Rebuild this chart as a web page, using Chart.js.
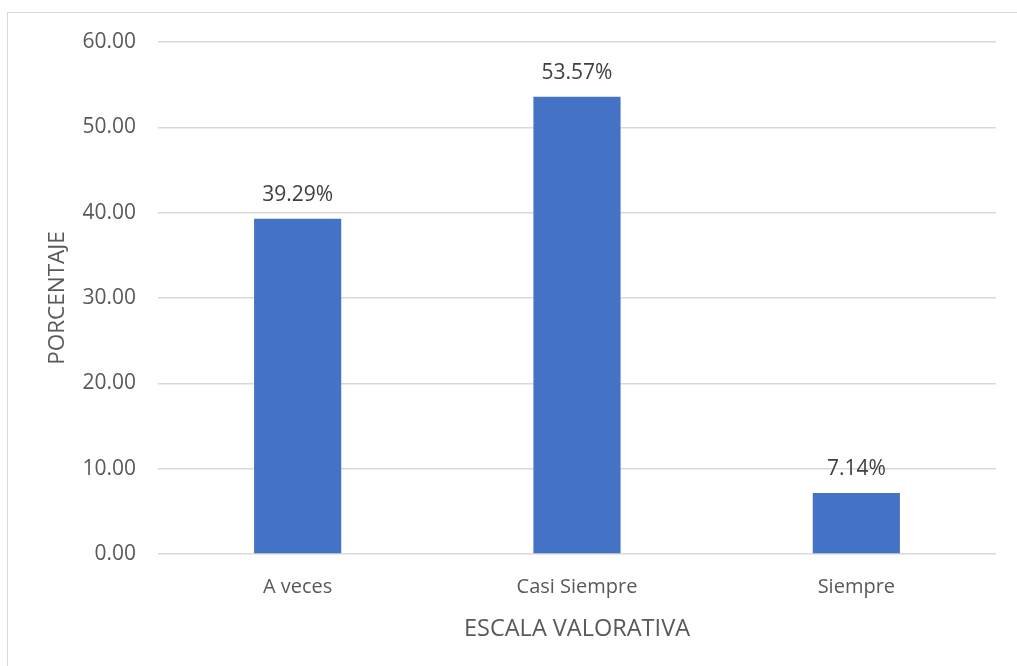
<!DOCTYPE html>
<html>
<head>
<meta charset="utf-8">
<script src="https://cdn.jsdelivr.net/npm/chart.js@4"></script>
<style>
  html, body { margin: 0; padding: 0; background: #fff; }
  #wrap { position: relative; width: 1017px; height: 666px; overflow: hidden; }
  #frame { position: absolute; left: 7px; top: 12px; width: 1100px; height: 700px; border: 1px solid #d9d9d9; box-sizing: border-box; }
  #chart { position: absolute; left: 0; top: 0; }
</style>
</head>
<body>
<div id="wrap">
  <div id="frame"></div>
  <canvas id="chart" width="1017" height="666"></canvas>
</div>
<script>
const categories = ["A veces", "Casi Siempre", "Siempre"];
const percentages = [39.29, 53.57, 7.14];
const yTicks = [0, 10, 20, 30, 40, 50, 60];

const FONT = "'Open Sans', sans-serif";
const GREY = "#595959";

// percentage labels above each bar
const barLabels = {
    id: "barLabels",
    afterDatasetsDraw(chart) {
        const ctx = chart.ctx;
        const meta = chart.getDatasetMeta(0);
        ctx.save();
        ctx.font = "21px " + FONT;
        ctx.fillStyle = "#404040";
        ctx.textAlign = "center";
        ctx.textBaseline = "alphabetic";
        meta.data.forEach((bar, i) => {
            ctx.fillText(percentages[i].toFixed(2) + "%", bar.x, bar.y - 18);
        });
        ctx.restore();
    }
};

const ctx = document.getElementById("chart").getContext("2d");
new Chart(ctx, {
    type: "bar",
    data: {
        labels: categories,
        datasets: [{
            data: percentages,
            backgroundColor: "#4472C4",
            categoryPercentage: 1,
            barPercentage: 0.312
        }]
    },
    options: {
        responsive: false,
        animation: false,
        layout: { padding: { top: 42, right: 21, left: 0, bottom: 0 } },
        plugins: {
            legend: { display: false },
            tooltip: { enabled: false }
        },
        scales: {
            x: {
                grid: { display: false, drawTicks: false },
                border: { display: false },
                ticks: { color: GREY, font: { family: FONT, size: 20 }, padding: 21 },
                title: {
                    display: true,
                    text: "ESCALA VALORATIVA",
                    color: GREY,
                    font: { family: FONT, size: 23.5 },
                    padding: { top: 0, bottom: 23 }
                },
                afterFit(scale) { scale.height = 112; }
            },
            y: {
                min: 0,
                max: 60,
                afterBuildTicks(scale) { scale.ticks = yTicks.map(v => ({ value: v })); },
                grid: { color: "#d9d9d9", lineWidth: 1.5, drawTicks: false },
                border: { display: false },
                ticks: {
                    color: GREY,
                    font: { family: FONT, size: 21 },
                    padding: 22,
                    callback: v => v.toFixed(2)
                },
                title: {
                    display: true,
                    text: "PORCENTAJE",
                    color: GREY,
                    font: { family: FONT, size: 22.5 },
                    padding: { top: 44, bottom: 0 }
                },
                afterFit(scale) { scale.width = 158; }
            }
        }
    },
    plugins: [barLabels]
});
</script>
</body>
</html>
